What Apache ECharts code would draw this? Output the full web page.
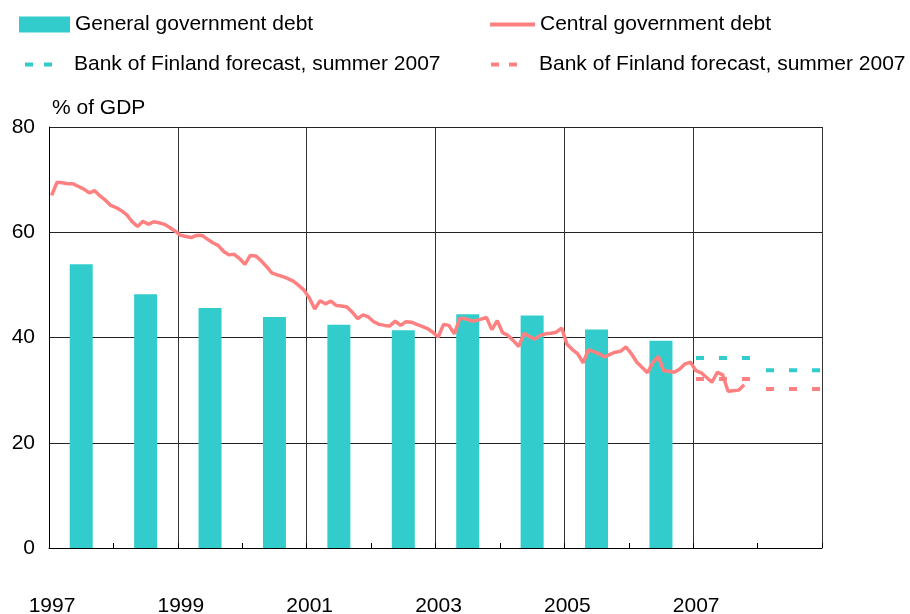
<!DOCTYPE html>
<html>
<head>
<meta charset="utf-8">
<script src="https://cdn.jsdelivr.net/npm/echarts@6/dist/echarts.min.js"></script>
<style>
  html, body { margin: 0; padding: 0; background: #fff; }
  #chart { width: 910px; height: 614px; }
</style>
</head>
<body>
<div id="chart"></div>
<script>
// Annual general government debt, % of GDP
const barYears = [1997, 1998, 1999, 2000, 2001, 2002, 2003, 2004, 2005, 2006];
const generalDebt = [53.9, 48.2, 45.6, 43.9, 42.4, 41.4, 44.4, 44.2, 41.5, 39.4];

// Monthly central government debt, % of GDP, January 1997 onwards
const centralStartYear = 1997;
const centralDebtMonthly = [
  67.0, 69.5, 69.4, 69.2, 69.2, 68.7, 68.2, 67.5, 67.9, 66.9, 66.1, 65.1,
  64.7, 64.1, 63.3, 62.0, 61.1, 62.1, 61.5, 62.0, 61.8, 61.5, 60.9, 60.2,
  59.4, 59.2, 59.0, 59.4, 59.4, 58.7, 58.0, 57.5, 56.4, 55.7, 55.8, 55.0,
  53.9, 55.6, 55.5, 54.6, 53.5, 52.3, 51.9, 51.6, 51.2, 50.7, 49.9, 49.0,
  47.5, 45.4, 47.0, 46.4, 46.9, 46.1, 46.0, 45.8, 44.8, 43.6, 44.3, 43.9,
  43.0, 42.5, 42.3, 42.2, 43.1, 42.3, 43.0, 42.9, 42.5, 42.1, 41.7, 41.0,
  40.1, 42.5, 42.3, 40.7, 43.6, 43.6, 43.2, 43.2, 43.5, 43.8, 41.5, 43.2,
  40.9, 40.4, 39.4, 38.3, 40.8, 40.2, 39.7, 40.4, 40.7, 40.8, 41.0, 41.8,
  38.7, 37.7, 36.9, 35.2, 37.7, 37.3, 36.9, 36.3, 36.8, 37.2, 37.4, 38.2,
  36.9, 35.3, 34.3, 33.3, 35.3, 36.4, 33.7, 33.6, 33.4, 34.0, 35.0, 35.3,
  33.7, 33.3, 32.4, 31.5, 33.4, 32.9, 29.8, 29.9, 30.0, 31.0
];

// Bank of Finland forecast, summer 2007
const forecastYears = [2007, 2008];
const generalForecast = [36.1, 33.8];
const centralForecast = [32.1, 30.2];

// Axis settings
const yearTickLabels = ['1997', '1999', '2001', '2003', '2005', '2007'];
const yTicks = [0, 20, 40, 60, 80];

const FONT = 'Liberation Sans, Arial, sans-serif';
const CYAN = '#33CCCC';
const SALMON = '#FF8080';
const forecastLabel = 'Bank of Finland forecast, summer 2007';

const barData = barYears.map((y, i) => [y + 0.5, generalDebt[i]]);
const centralData = centralDebtMonthly.map((v, m) => [centralStartYear + (m + 0.5) / 12, v]);

// Dash phase of each forecast year segment
const dashPhase = [20.2, 14.6];

function forecastSeries(name, values, color) {
  return forecastYears.map((y, i) => ({
    name: name,
    type: 'line',
    symbol: 'none',
    silent: true,
    z: 3,
    data: [[y, values[i]], [y + 1, values[i]]],
    lineStyle: { color: color, width: 4, type: [8, 15], dashOffset: dashPhase[i], cap: 'butt' },
    itemStyle: { color: color }
  }));
}

const legendText = { fontSize: 21, fontFamily: FONT, color: '#000' };

const option = {
  animation: false,
  backgroundColor: '#fff',
  textStyle: { fontFamily: FONT },
  grid: { left: 49, right: 88, top: 127, bottom: 66, containLabel: false, outerBoundsMode: 'none' },
  legend: [
    {
      data: ['General government debt'], left: 14, top: 9, icon: 'rect',
      itemWidth: 51, itemHeight: 16, textStyle: legendText, selectedMode: false
    },
    {
      data: ['Central government debt'], left: 483, top: 9,
      itemWidth: 45, itemHeight: 16, textStyle: legendText, selectedMode: false,
      itemStyle: { opacity: 0 }, lineStyle: { width: 4 }
    },
    {
      data: ['forecastGeneral'], left: 18, top: 49,
      itemWidth: 44, itemHeight: 16, textStyle: legendText, selectedMode: false,
      itemStyle: { opacity: 0 }, lineStyle: { width: 4, type: [8, 11, 8, 30], dashOffset: 0 },
      formatter: () => forecastLabel
    },
    {
      data: ['forecastCentral'], left: 484, top: 49,
      itemWidth: 43, itemHeight: 16, textStyle: legendText, selectedMode: false,
      itemStyle: { opacity: 0 }, lineStyle: { width: 4, type: [8, 10, 8, 30], dashOffset: 0 },
      formatter: () => forecastLabel
    }
  ],
  xAxis: {
    type: 'value',
    min: 1997,
    max: 2009,
    interval: 2,
    axisLine: { show: true, onZero: false, lineStyle: { color: '#000', width: 1 } },
    axisTick: { show: true, inside: true, length: 5, lineStyle: { color: '#000' } },
    minorTick: { show: true, splitNumber: 2, length: 5, lineStyle: { color: '#000', width: 1 } },
    splitLine: { show: true, lineStyle: { color: '#333', width: 1 } },
    axisLabel: {
      fontSize: 21, fontFamily: FONT, color: '#000', margin: 48, padding: [0, 0, 0, 6],
      formatter: (v) => {
        const s = String(Math.round(v));
        return yearTickLabels.indexOf(s) >= 0 ? s : '';
      }
    }
  },
  yAxis: {
    type: 'value',
    min: yTicks[0],
    max: yTicks[yTicks.length - 1],
    interval: 20,
    name: '% of GDP',
    nameLocation: 'end',
    nameGap: 19,
    nameTextStyle: { fontSize: 21, fontFamily: FONT, color: '#000', align: 'left', verticalAlign: 'middle', padding: [0, 0, 0, 3] },
    axisLine: { show: true, lineStyle: { color: '#000', width: 1 } },
    axisTick: { show: false },
    splitLine: { show: true, lineStyle: { color: '#222', width: 1 } },
    axisLabel: { fontSize: 21, fontFamily: FONT, color: '#000', margin: 14 }
  },
  series: [
    {
      name: 'General government debt',
      type: 'bar',
      barWidth: 23,
      data: barData,
      itemStyle: { color: CYAN },
      z: 2
    },
    {
      name: 'Central government debt',
      type: 'line',
      symbol: 'none',
      data: centralData,
      lineStyle: { color: SALMON, width: 3.5 },
      itemStyle: { color: SALMON },
      z: 4
    },
    ...forecastSeries('forecastGeneral', generalForecast, CYAN),
    ...forecastSeries('forecastCentral', centralForecast, SALMON)
  ]
};

const chart = echarts.init(document.getElementById('chart'), null, { renderer: 'canvas' });
chart.setOption(option);
</script>
</body>
</html>
